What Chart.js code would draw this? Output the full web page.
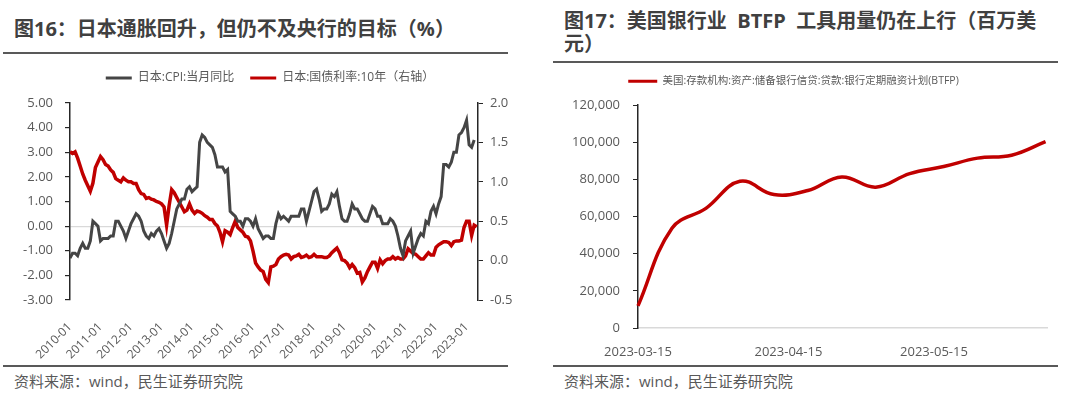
<!DOCTYPE html>
<html>
<head>
<meta charset="utf-8">
<script src="https://cdn.jsdelivr.net/npm/chart.js@4.4.0/dist/chart.umd.min.js"></script>
<style>
body{margin:0;width:1080px;height:394px;background:#fff;position:relative;overflow:hidden;font-family:"Open Sans","Noto Sans CJK SC",sans-serif;}
.title{position:absolute;font-weight:bold;font-size:20px;color:#404040;line-height:23px;white-space:nowrap}
.rule{position:absolute;height:2px;background:#595959}
.src{position:absolute;font-size:15px;color:#595959;white-space:nowrap}
.box{position:absolute}
</style>
</head>
<body>

<div class="title" style="left:14px;top:17px">图16：日本通胀回升，但仍不及央行的目标（%）</div>
<div class="rule" style="left:3px;top:52px;width:505px"></div>
<div class="box" style="left:0;top:56px;width:540px;height:306px"><canvas id="left"></canvas></div>
<div class="rule" style="left:3px;top:365px;width:505px"></div>
<div class="src" style="left:14px;top:370px">资料来源：wind，民生证券研究院</div>

<div class="title" style="left:564px;top:9px">图17：美国银行业&nbsp;&nbsp;BTFP&nbsp;&nbsp;工具用量仍在上行（百万美<br>元）</div>
<div class="rule" style="left:553px;top:61px;width:505px"></div>
<div class="box" style="left:540px;top:56px;width:540px;height:306px"><canvas id="right"></canvas></div>
<div class="rule" style="left:553px;top:365px;width:505px"></div>
<div class="src" style="left:564px;top:370px">资料来源：wind，民生证券研究院</div>

<script>
// ---- 图16 data (monthly, from 2010-01) ----
const yearTicks = ['2010-01','2011-01','2012-01','2013-01','2014-01','2015-01','2016-01',
  '2017-01','2018-01','2019-01','2020-01','2021-01','2022-01','2023-01'];

// 日本:CPI:当月同比 (%), 2010-01 .. 2023-04
const cpiYoY = [
  -1.3,-1.1,-1.1,-1.2,-0.9,-0.7,-0.9,-0.9,-0.6,0.2,0.1,0.0,
  -0.6,-0.5,-0.5,-0.5,-0.4,-0.4,0.2,0.2,0.0,-0.2,-0.5,-0.2,
  0.1,0.3,0.5,0.4,0.2,-0.2,-0.4,-0.5,-0.3,-0.4,-0.2,-0.1,
  -0.3,-0.6,-0.9,-0.7,-0.3,0.2,0.7,0.9,1.1,1.1,1.5,1.6,
  1.4,1.5,1.6,3.4,3.7,3.6,3.4,3.3,3.2,2.9,2.4,2.4,
  2.4,2.2,2.3,0.6,0.5,0.4,0.2,0.2,0.0,0.3,0.3,0.2,
  0.0,0.3,-0.1,-0.3,-0.5,-0.4,-0.4,-0.5,-0.5,0.1,0.5,0.3,
  0.4,0.3,0.2,0.4,0.4,0.4,0.4,0.7,0.7,0.2,0.6,1.0,
  1.4,1.5,1.1,0.6,0.7,0.7,0.9,1.3,1.2,1.4,0.8,0.3,
  0.2,0.2,0.5,0.9,0.7,0.7,0.5,0.3,0.2,0.2,0.5,0.8,
  0.7,0.4,0.4,0.1,0.1,0.1,0.3,0.2,0.0,-0.4,-0.9,-1.2,
  -0.6,-0.4,-0.2,-1.1,-0.8,-0.5,-0.3,-0.4,0.2,0.1,0.6,0.8,
  0.5,0.9,1.2,2.5,2.5,2.4,2.6,3.0,3.0,3.7,3.8,4.0,
  4.3,3.3,3.2,3.5
];

// 日本:国债利率:10年 (%), 2010-01 .. 2023-05
const jgb10y = [
  1.38,1.36,1.38,1.30,1.20,1.10,1.02,0.95,0.88,0.98,1.18,1.25,
  1.32,1.28,1.22,1.20,1.15,1.12,1.04,1.02,1.00,1.05,1.02,1.00,
  1.00,0.98,0.98,0.90,0.85,0.84,0.79,0.80,0.78,0.77,0.75,0.74,
  0.72,0.68,0.45,0.70,0.90,0.86,0.80,0.74,0.68,0.62,0.64,0.72,
  0.64,0.60,0.63,0.62,0.60,0.57,0.55,0.52,0.52,0.47,0.44,0.36,
  0.24,0.38,0.36,0.33,0.42,0.50,0.42,0.39,0.36,0.31,0.30,0.25,
  0.12,-0.03,-0.08,-0.12,-0.14,-0.24,-0.28,-0.08,-0.07,-0.05,0.02,0.05,
  0.07,0.08,0.07,0.02,0.05,0.06,0.08,0.04,0.05,0.07,0.04,0.05,
  0.08,0.05,0.05,0.05,0.04,0.04,0.06,0.10,0.13,0.16,0.10,0.01,
  0.00,-0.03,-0.09,-0.05,-0.09,-0.16,-0.15,-0.27,-0.22,-0.14,-0.08,-0.02,
  -0.02,-0.10,0.01,-0.04,0.00,0.02,0.02,0.05,0.02,0.04,0.02,0.02,
  0.06,0.15,0.12,0.09,0.08,0.05,0.02,0.02,0.06,0.10,0.07,0.07,
  0.17,0.20,0.22,0.24,0.24,0.23,0.19,0.24,0.25,0.25,0.26,0.42,
  0.50,0.50,0.32,0.45,0.43
];

// ---- 图17 data (weekly) ----
const btfpDates = ['2023-03-15','2023-03-22','2023-03-29','2023-04-05','2023-04-12','2023-04-19',
  '2023-04-26','2023-05-03','2023-05-10','2023-05-17','2023-05-24','2023-05-31','2023-06-07'];
const btfpValues = [11900,53700,64400,79000,71800,74000,81300,75800,83100,86900,91400,93000,100300];
const btfpTicks = ['2023-03-15','2023-04-15','2023-05-15'];

const GRAY = '#595959';
const FONT = '"Open Sans","Noto Sans CJK SC",sans-serif';
const dayOf = d => (Date.parse(d) - Date.parse(btfpDates[0])) / 86400000;

// force the legend box to a fixed height so the plot area lines up
const legendHeight = {
  id: 'legendHeight',
  beforeInit(chart, args, opts) {
    const lg = chart.legend;
    if (!lg) return;
    const fit = lg.fit;
    lg.fit = function () { fit.call(this); this.height = opts.h; };
  }
};
const flatLegend = chart => Chart.defaults.plugins.legend.labels.generateLabels(chart)
  .map(l => Object.assign(l, {lineWidth: 0}));

new Chart(document.getElementById('left'), {
  type: 'line',
  data: {
    datasets: [{
      label: '日本:CPI:当月同比',
      data: cpiYoY.map((v, i) => ({x: i, y: v})),
      borderColor: '#454545', backgroundColor: '#454545',
      borderWidth: 3, pointRadius: 0, tension: 0, yAxisID: 'y'
    }, {
      label: '日本:国债利率:10年（右轴）',
      data: jgb10y.map((v, i) => ({x: i, y: v})),
      borderColor: '#C00000', backgroundColor: '#C00000',
      borderWidth: 3.5, pointRadius: 0, tension: 0, yAxisID: 'y1'
    }]
  },
  plugins: [legendHeight],
  options: {
    responsive: true, maintainAspectRatio: false, animation: false,
    layout: {padding: 0},
    plugins: {
      legendHeight: {h: 47},
      tooltip: {enabled: false},
      legend: {
        labels: {boxWidth: 26, boxHeight: 3, padding: 16, color: GRAY,
          font: {family: FONT, size: 12}, generateLabels: flatLegend}
      }
    },
    scales: {
      x: {
        type: 'linear', min: 0, max: 160.5,
        afterBuildTicks: s => { s.ticks = yearTicks.map((t, i) => ({value: i * 12})); },
        afterFit: s => { s.height = 62; },
        ticks: {autoSkip: false, minRotation: 45, maxRotation: 45, padding: 12, color: GRAY,
          font: {family: FONT, size: 12}, callback: (v, i) => yearTicks[i]},
        grid: {display: false}, border: {display: false}
      },
      y: {
        position: 'left', min: -3, max: 5,
        afterFit: s => { s.width = 70; },
        ticks: {stepSize: 1, padding: 12, color: GRAY, font: {family: FONT, size: 13},
          callback: v => v.toFixed(2)},
        grid: {color: c => c.tick && c.tick.value === 0 ? '#d9d9d9' : 'rgba(0,0,0,0)',
          tickColor: '#262626', tickLength: 5, lineWidth: 1.2},
        border: {color: '#262626', width: 1.5}
      },
      y1: {
        position: 'right', min: -0.5, max: 2,
        afterFit: s => { s.width = 62; },
        ticks: {stepSize: 0.5, padding: 7, color: GRAY, font: {family: FONT, size: 13},
          callback: v => v.toFixed(1)},
        grid: {drawOnChartArea: false, tickColor: '#262626', tickLength: 5},
        border: {color: '#262626', width: 1.5}
      }
    }
  }
});

new Chart(document.getElementById('right'), {
  type: 'line',
  data: {
    datasets: [{
      label: '美国:存款机构:资产:储备银行信贷:贷款:银行定期融资计划(BTFP)',
      data: btfpValues.map((v, i) => ({x: dayOf(btfpDates[i]), y: v})),
      borderColor: '#C00000', backgroundColor: '#C00000',
      borderWidth: 3.5, pointRadius: 0, tension: 0.4, clip: false
    }]
  },
  plugins: [legendHeight],
  options: {
    responsive: true, maintainAspectRatio: false, animation: false,
    layout: {padding: {right: 33}},
    plugins: {
      legendHeight: {h: 49},
      tooltip: {enabled: false},
      legend: {
        labels: {boxWidth: 29, boxHeight: 3, padding: 20, color: GRAY,
          font: {family: FONT, size: 10.5}, generateLabels: flatLegend}
      }
    },
    scales: {
      x: {
        type: 'linear', min: 0, max: 84.3,
        afterBuildTicks: s => { s.ticks = btfpTicks.map(d => ({value: dayOf(d)})); },
        afterFit: s => { s.height = 34; },
        ticks: {autoSkip: false, maxRotation: 0, padding: 8, color: GRAY,
          font: {family: FONT, size: 13}, callback: (v, i) => btfpTicks[i]},
        grid: {display: false},
        border: {color: '#d9d9d9', width: 1.5}
      },
      y: {
        min: 0, max: 120000,
        afterFit: s => { s.width = 98; },
        ticks: {stepSize: 20000, padding: 13, color: GRAY, font: {family: FONT, size: 13},
          callback: v => v.toLocaleString('en-US')},
        grid: {drawOnChartArea: false, tickColor: '#262626', tickLength: 5},
        border: {color: '#262626', width: 1.5}
      }
    }
  }
});
</script>
</body>
</html>
